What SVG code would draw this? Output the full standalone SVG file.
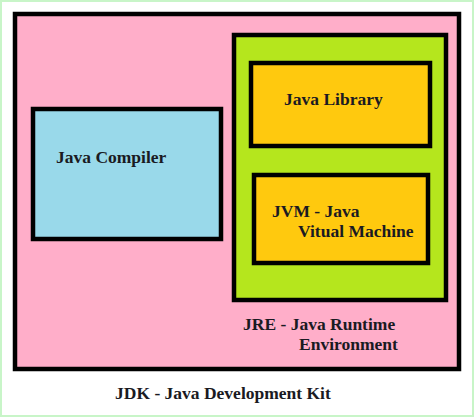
<svg xmlns="http://www.w3.org/2000/svg" width="474" height="417" viewBox="0 0 474 417">
<style>
.box{stroke:#000;stroke-width:4.5}
.t{font-family:"Liberation Serif","Times New Roman",serif;font-weight:bold;font-size:17.5px;fill:#1a1a22}
</style>
<rect x="1" y="1" width="472" height="415" fill="#ffffff" stroke="#c8f5c8" stroke-width="2"/>
<g id="jdk">
<rect class="box" x="15" y="14" width="444" height="355" fill="#ffaec9"/>
<text class="t" x="115" y="399">JDK - Java Development Kit</text>
</g>
<g id="compiler">
<rect class="box" x="33" y="109" width="188" height="130" fill="#99d9ea"/>
<text class="t" x="56" y="163">Java Compiler</text>
</g>
<g id="jre">
<rect class="box" x="234" y="35" width="212" height="265" fill="#b5e61d"/>
<text class="t" x="243" y="330">JRE - Java Runtime</text>
<text class="t" x="299" y="350">Environment</text>
</g>
<g id="library">
<rect class="box" x="251" y="63" width="179" height="83" fill="#ffc90e"/>
<text class="t" x="284" y="105">Java Library</text>
</g>
<g id="jvm">
<rect class="box" x="254" y="175" width="174" height="88" fill="#ffc90e"/>
<text class="t" x="272" y="217">JVM - Java</text>
<text class="t" x="298" y="237">Vitual Machine</text>
</g>
</svg>
